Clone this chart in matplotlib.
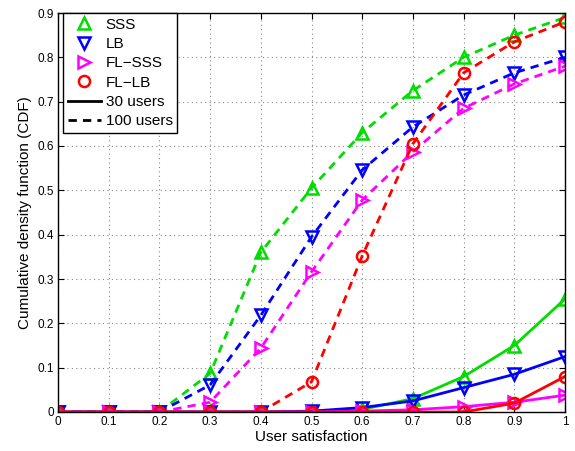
import matplotlib
matplotlib.use("Agg")
import matplotlib.pyplot as plt
from matplotlib.lines import Line2D

x = [0, 0.1, 0.2, 0.3, 0.4, 0.5, 0.6, 0.7, 0.8, 0.9, 1.0]

# 100 users (dashed)
sss_100 = [0, 0, 0, 0.087, 0.36, 0.505, 0.63, 0.725, 0.80, 0.85, 0.89]
lb_100 = [0, 0, 0, 0.061, 0.218, 0.395, 0.546, 0.643, 0.715, 0.765, 0.80]
flsss_100 = [0, 0, 0, 0.022, 0.144, 0.316, 0.478, 0.587, 0.685, 0.74, 0.78]
fllb_100 = [0, 0, 0, 0, 0, 0.068, 0.352, 0.605, 0.765, 0.835, 0.88]

# 30 users (solid)
sss_30 = [0, 0, 0, 0, 0, 0.001, 0.006, 0.03, 0.08, 0.15, 0.255]
lb_30 = [0, 0, 0, 0, 0, 0.002, 0.01, 0.025, 0.055, 0.085, 0.125]
flsss_30 = [0, 0, 0, 0, 0, 0, 0.002, 0.005, 0.012, 0.022, 0.038]
fllb_30 = [0, 0, 0, 0, 0, 0, 0, 0, 0, 0.02, 0.08]

labels = ["SSS", "LB", "FL\u2212SSS", "FL\u2212LB"]
colors = ["#00dd00", "#0000ff", "#ff00ff", "#ff0000"]
markers = ["^", "v", ">", "o"]

plt.rcParams['font.family'] = ['Liberation Sans', 'DejaVu Sans']
fig = plt.figure(figsize=(5.75, 4.51), dpi=100)
ax = fig.add_axes([58 / 575, 1 - 412 / 451, 507 / 575, 399 / 451])

dash = (0, (3, 2.2))
mk = dict(markersize=8, markerfacecolor='none', markeredgewidth=1.8, linewidth=2)
for ys, c, m in zip([sss_100, lb_100, flsss_100, fllb_100], colors, markers):
    ax.plot(x, ys, linestyle=dash, color=c, marker=m, **mk)
for ys, c, m in zip([sss_30, lb_30, flsss_30, fllb_30], colors, markers):
    ax.plot(x, ys, linestyle='-', color=c, marker=m, **mk)

ax.set_xlim(0, 1)
ax.set_ylim(0, 0.9)
ax.set_xticks(x)
ax.set_xticklabels(["0", "0.1", "0.2", "0.3", "0.4", "0.5", "0.6", "0.7", "0.8", "0.9", "1"])
ax.set_yticks([0, 0.1, 0.2, 0.3, 0.4, 0.5, 0.6, 0.7, 0.8, 0.9])
ax.set_yticklabels(["0", "0.1", "0.2", "0.3", "0.4", "0.5", "0.6", "0.7", "0.8", "0.9"])
ax.tick_params(direction='in', labelsize=8.5, length=4, top=True, right=True, pad=3)
ax.grid(True, linestyle=(0, (1, 3)), color='#888888', linewidth=0.8)
ax.set_xlabel("User satisfaction", fontsize=11, labelpad=1)
ax.set_ylabel("Cumulative density function (CDF)", fontsize=11, labelpad=4)
for s in ax.spines.values():
    s.set_linewidth(1)

handles = [Line2D([], [], linestyle='none', color=c, marker=m, markersize=8,
                  markerfacecolor='none', markeredgewidth=1.8) for c, m in zip(colors, markers)]
handles += [Line2D([], [], color='black', linestyle='-', linewidth=2),
            Line2D([], [], color='black', linestyle=dash, linewidth=2)]
leg = ax.legend(handles, labels + ["30 users", "100 users"], loc='upper left',
                bbox_to_anchor=(5 / 507, 1.0), fontsize=11, frameon=True, fancybox=False,
                edgecolor='black', framealpha=1, borderpad=0.3, labelspacing=0.35,
                handlelength=2.2, handletextpad=0.3, borderaxespad=0.0)
leg.get_frame().set_linewidth(1)

fig.savefig("out.png", dpi=100)
